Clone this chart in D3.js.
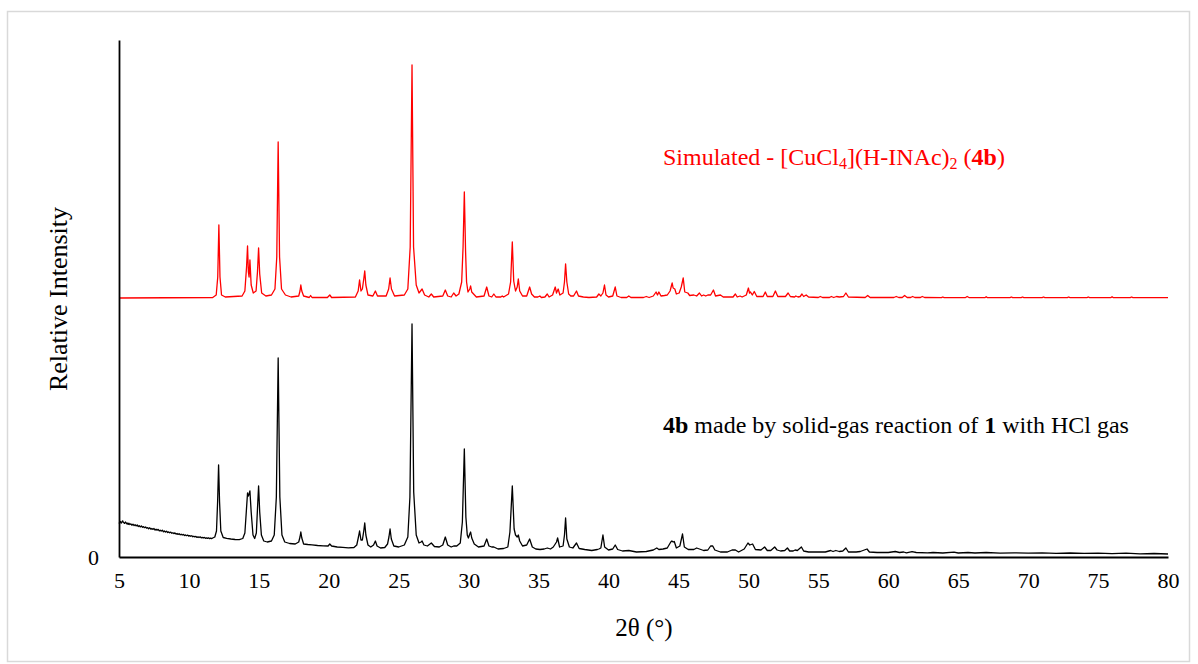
<!DOCTYPE html>
<html>
<head>
<meta charset="utf-8">
<script src="https://cdn.jsdelivr.net/npm/d3@7"></script>
<style>
  html, body { margin: 0; padding: 0; background: #fff; }
  svg { display: block; font-family: "Liberation Serif", "Times New Roman", serif; }
</style>
</head>
<body>
<svg id="chart" width="1198" height="664"></svg>
<script>
// ---- Data (2θ in degrees, relative intensity in arbitrary units, simulated pattern plotted with offset) ----
const xTicks = [5, 10, 15, 20, 25, 30, 35, 40, 45, 50, 55, 60, 65, 70, 75, 80];
const yTicks = [0];

const simulatedLabel = "Simulated";
const experimentalLabel = "4b made by solid-gas reaction of 1 with HCl gas";

const simulated = [
  [5, 259], [11.7, 259.5], [11.95, 262], [12.06, 280], [12.14, 332], [12.22, 280], [12.33, 262], [12.6, 260],
  [13.8, 261], [14.0, 266], [14.12, 290], [14.19, 311], [14.25, 285], [14.3, 280], [14.36, 297], [14.45, 272],
  [14.6, 264], [14.8, 266], [14.9, 285], [14.98, 309], [15.06, 283], [15.2, 264], [15.5, 261],
  [15.9, 262], [16.15, 268], [16.28, 300], [16.38, 415], [16.48, 300], [16.62, 268], [16.9, 262], [17.3, 260],
  [17.85, 261], [17.94, 266], [18.0, 272], [18.07, 266], [18.2, 261],
  [18.6, 259.5], [18.7, 261.5], [18.8, 259.5],
  [19.9, 259.5], [20.07, 262], [20.2, 259.5],
  [21.9, 260], [22.1, 266], [22.2, 277], [22.3, 266], [22.4, 268], [22.5, 278], [22.57, 286], [22.65, 272], [22.8, 262],
  [23.15, 261], [23.33, 266], [23.48, 261],
  [24.1, 261], [24.28, 268], [24.38, 279], [24.48, 268], [24.7, 261],
  [25.4, 262], [25.65, 268], [25.82, 310], [25.95, 492], [26.06, 310], [26.25, 272], [26.45, 264], [26.67, 268], [26.85, 262],
  [27.15, 260], [27.33, 263], [27.5, 260],
  [28.15, 261], [28.33, 267], [28.5, 261], [28.75, 260], [28.93, 264], [29.1, 261],
  [29.3, 263], [29.5, 275], [29.6, 310], [29.69, 365], [29.78, 305], [29.85, 275], [29.95, 265], [30.08, 268],
  [30.14, 271], [30.22, 265], [30.35, 263], [30.55, 260],
  [31.1, 261], [31.29, 270], [31.45, 261], [31.65, 260], [31.8, 263], [31.95, 260],
  [32.3, 260], [32.4, 261], [32.5, 260],
  [32.85, 263], [33.0, 275], [33.12, 315], [33.22, 276], [33.35, 266], [33.47, 270], [33.55, 278], [33.65, 266], [33.85, 261],
  [34.15, 261], [34.36, 270], [34.5, 263], [34.7, 260],
  [34.95, 260], [35.09, 261], [35.2, 259.5],
  [35.45, 260], [35.62, 263], [35.75, 260],
  [36.0, 262], [36.19, 270], [36.28, 264], [36.4, 268], [36.52, 262], [36.75, 264], [36.85, 275], [36.93, 293],
  [37.02, 275], [37.15, 263], [37.3, 261], [37.5, 261], [37.71, 266], [37.85, 261], [38.2, 260], [38.6, 259.5],
  [39.15, 260], [39.31, 263], [39.45, 261], [39.6, 264], [39.71, 272], [39.82, 262], [40.0, 260],
  [40.3, 261], [40.48, 270], [40.6, 261], [40.9, 259.5],
  [41.3, 259.5], [41.45, 261], [41.6, 259.5],
  [42.5, 259.5], [42.7, 260.5], [42.9, 259.5],
  [43.2, 261], [43.4, 265], [43.5, 262], [43.6, 265], [43.75, 261], [44.0, 261.5], [44.2, 262], [44.4, 266],
  [44.55, 274], [44.62, 269], [44.74, 268], [44.85, 263], [45.05, 264], [45.2, 270], [45.34, 279], [45.45, 265],
  [45.67, 264], [45.8, 261.5], [46.1, 262], [46.3, 261], [46.5, 264], [46.65, 261], [46.8, 262], [46.95, 261],
  [47.1, 262], [47.3, 262], [47.5, 267], [47.65, 261], [48.0, 262], [48.2, 260],
  [48.9, 260], [49.07, 263], [49.2, 260], [49.4, 261], [49.55, 260],
  [49.85, 262], [50.0, 269], [50.08, 264], [50.15, 265], [50.28, 262], [50.42, 265.5], [50.6, 260.5],
  [51.05, 260.5], [51.21, 265], [51.35, 260.5],
  [51.75, 260.5], [51.93, 266], [52.1, 260.5],
  [52.65, 260.5], [52.84, 264], [53.0, 260.5],
  [53.3, 260], [53.39, 261], [53.55, 260], [53.7, 260.5], [53.83, 263], [53.95, 260.5], [54.13, 262], [54.3, 260],
  [55.0, 259.5], [55.14, 260.5], [55.3, 259.5],
  [55.8, 259.5], [55.93, 260.5], [56.1, 259.5], [56.3, 260.5], [56.5, 260], [56.8, 260.5], [56.97, 264], [57.15, 260],
  [58.35, 259.5], [58.53, 261.5], [58.7, 259.5],
  [60.4, 259.5], [60.57, 260.5], [60.75, 259.5], [61.0, 259.5], [61.17, 261.5], [61.35, 259.5],
  [61.6, 259.5], [61.74, 260.5], [61.9, 259.5],
  [62.3, 259.5], [62.43, 260.5], [62.6, 259.5],
  [63.8, 259.3], [63.9, 260], [64.0, 259.3],
  [65.5, 259.3], [65.64, 260.5], [65.8, 259.3],
  [66.9, 259.3], [67.0, 260.3], [67.1, 259.3],
  [68.7, 259.3], [68.8, 260], [68.9, 259.3],
  [69.5, 259.3], [69.6, 260], [69.7, 259.3],
  [71.0, 259.3], [71.1, 260], [71.2, 259.3],
  [72.8, 259.3], [72.9, 260], [73.0, 259.3],
  [74.2, 259.3], [74.3, 260], [74.4, 259.3],
  [75.9, 259.3], [76.0, 260.3], [76.1, 259.3],
  [77.3, 259.3], [77.4, 260], [77.5, 259.3],
  [80, 259.3]
];

const experimental = [
  [5.0, 33.5], [5.06, 34.8], [5.1, 35.5], [5.16, 33.9], [5.2, 34.6], [5.26, 36.1], [5.3, 35.2], [5.36, 34],
  [5.4, 33.6], [5.46, 35], [5.5, 34.4], [5.56, 33.1], [5.6, 33.9], [5.66, 32.6], [5.7, 33.8], [5.78, 32.5],
  [5.85, 33.1], [5.92, 31.8], [6.0, 32.9], [6.08, 31.4], [6.15, 32.2], [6.22, 31.1], [6.3, 32], [6.38, 30.5],
  [6.45, 31.2], [6.52, 30.1], [6.6, 31.1], [6.68, 29.7], [6.75, 30.4], [6.82, 29.3], [6.9, 30], [6.98, 28.8],
  [7.05, 29.4], [7.12, 28.3], [7.2, 29.2], [7.28, 27.8], [7.35, 28.6], [7.42, 27.6], [7.5, 28.5], [7.58, 26.9],
  [7.65, 27.8], [7.72, 26.8], [7.8, 27.6], [7.88, 26.1], [7.95, 26.8], [8.02, 25.9], [8.1, 26.8], [8.18, 25.2],
  [8.25, 26], [8.32, 24.9], [8.4, 25.8], [8.48, 24.5], [8.55, 25.1], [8.62, 24.2], [8.7, 24.9], [8.78, 23.7],
  [8.85, 24.3], [8.92, 23.4], [9.0, 24.1], [9.08, 22.9], [9.15, 23.5], [9.22, 22.6], [9.3, 23.3], [9.38, 22.2],
  [9.45, 22.8], [9.52, 22], [9.6, 22.6], [9.68, 21.5], [9.75, 22.1], [9.82, 21.3], [9.9, 21.9], [9.98, 20.9],
  [10.05, 21.4], [10.12, 20.7], [10.2, 21.3], [10.28, 20.2], [10.35, 20.8], [10.42, 20.1], [10.5, 20.6], [10.58, 19.6],
  [10.65, 20.2], [10.72, 19.5], [10.8, 20.2], [10.88, 19.1], [10.95, 19.7], [11.02, 19], [11.1, 19.6], [11.18, 18.7],
  [11.25, 19.2], [11.32, 18.6], [11.4, 19.2], [11.48, 18.3], [11.55, 18.8], [11.62, 18.4], [11.7, 19],
  [11.85, 20], [11.97, 26], [12.05, 55], [12.12, 92], [12.19, 55], [12.28, 26], [12.45, 19.5], [12.7, 18.6],
  [13.0, 18], [13.3, 17.5], [13.6, 17.4], [13.85, 18.5], [14.0, 24], [14.1, 45], [14.19, 64], [14.25, 61],
  [14.3, 63], [14.36, 66], [14.45, 45], [14.58, 22], [14.7, 18.5], [14.82, 24], [14.9, 48], [14.98, 71],
  [15.06, 45], [15.18, 22], [15.35, 16], [15.6, 15], [15.9, 16], [16.1, 22], [16.25, 60], [16.38, 199],
  [16.5, 60], [16.65, 22], [16.85, 15], [17.2, 13.5], [17.6, 13], [17.85, 15], [17.94, 20], [18.0, 25],
  [18.07, 19], [18.2, 13], [18.5, 12.5], [18.8, 12.2], [19.2, 11.5], [19.6, 11.2], [19.95, 11], [20.07, 13],
  [20.2, 11], [20.6, 10], [21.0, 9.6], [21.4, 9.2], [21.8, 9.5], [22.0, 12], [22.12, 20], [22.2, 26],
  [22.3, 17], [22.4, 17], [22.5, 26], [22.57, 34], [22.65, 22], [22.8, 12], [23.0, 10], [23.2, 12],
  [23.33, 16], [23.45, 11], [23.7, 9], [24.0, 9.5], [24.2, 13], [24.3, 20], [24.38, 28], [24.47, 18],
  [24.65, 11], [25.0, 10], [25.4, 12], [25.65, 20], [25.8, 60], [25.95, 233], [26.07, 65], [26.25, 22],
  [26.45, 14], [26.6, 15], [26.67, 16], [26.8, 12], [27.05, 11], [27.33, 14], [27.55, 10.5], [27.9, 10],
  [28.15, 12], [28.33, 20], [28.5, 12], [28.75, 10], [28.93, 11], [29.15, 11], [29.4, 14], [29.55, 35],
  [29.69, 108], [29.8, 40], [29.9, 22], [29.98, 19], [30.08, 23], [30.14, 25], [30.22, 19], [30.4, 13],
  [30.7, 10], [31.1, 11], [31.29, 18], [31.45, 11], [31.65, 10], [31.8, 10], [32.1, 8], [32.5, 8.5],
  [32.8, 10], [32.95, 25], [33.12, 71], [33.25, 28], [33.35, 22], [33.47, 20], [33.55, 22], [33.65, 16],
  [33.85, 11], [34.15, 12], [34.36, 18], [34.55, 10], [34.8, 8], [35.1, 7.5], [35.4, 8], [35.62, 9],
  [35.85, 8], [36.05, 10], [36.19, 13], [36.28, 15], [36.36, 19], [36.5, 10], [36.75, 11], [36.85, 22],
  [36.93, 39], [37.02, 18], [37.2, 10], [37.45, 9], [37.71, 14], [37.9, 8.5], [38.3, 7.5], [38.8, 6.5],
  [39.2, 7.5], [39.31, 8], [39.45, 9], [39.6, 22], [39.72, 10], [40.0, 7], [40.3, 8], [40.48, 12],
  [40.65, 7.5], [41.0, 6], [41.45, 6.5], [42.0, 5], [42.7, 5.5], [43.2, 7], [43.45, 9], [43.6, 7.5],
  [43.9, 8], [44.2, 9], [44.45, 15], [44.53, 16], [44.62, 15], [44.7, 15.5], [44.85, 9], [45.1, 11],
  [45.29, 23], [45.42, 10], [45.7, 7.5], [46.1, 7.5], [46.3, 9], [46.5, 8], [46.8, 6.5], [47.1, 7],
  [47.3, 11], [47.45, 11], [47.6, 7], [48.0, 5], [48.5, 5], [48.83, 7], [49.07, 7], [49.3, 5],
  [49.7, 8], [49.97, 14], [50.1, 12], [50.3, 13], [50.5, 7.5], [50.9, 7], [51.16, 10], [51.35, 6.5],
  [51.6, 6.5], [51.88, 10], [52.05, 7], [52.3, 6], [52.6, 6.5], [52.79, 9], [52.95, 6], [53.2, 6],
  [53.34, 7], [53.5, 6.5], [53.79, 10], [53.95, 6], [54.3, 5], [55.0, 5], [55.5, 5], [55.88, 6.5],
  [56.05, 5.5], [56.25, 6.5], [56.5, 5.5], [56.75, 6], [56.97, 9], [57.15, 5], [57.7, 5], [58.0, 5.5],
  [58.48, 8], [58.65, 5], [59.2, 4.5], [60.0, 4.5], [60.5, 5.5], [60.8, 4.5], [61.1, 5], [61.3, 4.2],
  [61.7, 5.3], [62.0, 4.5], [62.8, 4.2], [63.2, 4.5], [63.9, 4], [64.7, 4.8], [65.0, 4], [65.7, 4.5],
  [66.2, 4], [67.0, 4.5], [68.0, 3.8], [69.0, 4.2], [70.0, 3.8], [71.0, 4.2], [72.0, 3.7], [73.0, 4],
  [74.0, 3.6], [75.0, 3.9], [76.0, 3.4], [77.0, 3.8], [78.0, 3.2], [79.0, 3.5], [80.0, 3]
];

// ---- Layout ----
const svg = d3.select("#chart");

svg.append("rect")
  .attr("x", 7.5).attr("y", 11.5).attr("width", 1182).attr("height", 650)
  .attr("fill", "#fff").attr("stroke", "#d9d9d9").attr("stroke-width", 1.5);

const x = d3.scaleLinear().domain([5, 80]).range([119, 1168]);
const y = d3.scaleLinear().domain([0, 517]).range([557, 40]);

const line = d3.line().x(d => x(d[0])).y(d => y(d[1]));

svg.append("path").datum(simulated)
  .attr("d", line).attr("fill", "none").attr("stroke", "#ff0000")
  .attr("stroke-width", 1.3).attr("stroke-linejoin", "round");

svg.append("path").datum(experimental)
  .attr("d", line).attr("fill", "none").attr("stroke", "#000")
  .attr("stroke-width", 1.3).attr("stroke-linejoin", "round");

// Axes
const xAxis = svg.append("g")
  .attr("transform", `translate(0,${y(0)})`)
  .call(d3.axisBottom(x).tickValues(xTicks).tickSize(0).tickPadding(15).tickFormat(d3.format("d")));
xAxis.select(".domain").attr("stroke", "#000").attr("stroke-width", 1.8);
xAxis.selectAll("text").attr("font-size", 22).attr("font-family", "Liberation Serif").attr("fill", "#000");

const yAxis = svg.append("g")
  .attr("transform", `translate(${x(5)},0)`)
  .call(d3.axisLeft(y).tickValues(yTicks).tickSize(0).tickPadding(20).tickFormat(d3.format("d")));
yAxis.select(".domain").attr("stroke", "#000").attr("stroke-width", 1.8);
yAxis.selectAll("text").attr("font-size", 22).attr("font-family", "Liberation Serif").attr("fill", "#000");

// Axis titles
svg.append("text")
  .attr("transform", "translate(67,299) rotate(-90)")
  .attr("text-anchor", "middle")
  .attr("font-size", 26).attr("fill", "#000")
  .text("Relative Intensity");

svg.append("text")
  .attr("x", 644).attr("y", 636)
  .attr("text-anchor", "middle")
  .attr("font-size", 25).attr("fill", "#000")
  .text("2θ (°)");

// Annotations
const red = svg.append("text")
  .attr("x", 663).attr("y", 165)
  .attr("font-size", 24).attr("fill", "#ff0000");
red.append("tspan").text(simulatedLabel + " - [CuCl");
red.append("tspan").attr("font-size", 16).attr("dy", 4).text("4");
red.append("tspan").attr("dy", -4).text("](H-INAc)");
red.append("tspan").attr("font-size", 16).attr("dy", 4).text("2");
red.append("tspan").attr("dy", -4).text(" (");
red.append("tspan").attr("font-weight", "bold").text("4b");
red.append("tspan").text(")");

const blk = svg.append("text")
  .attr("x", 663).attr("y", 433)
  .attr("font-size", 24).attr("fill", "#000");
blk.append("tspan").attr("font-weight", "bold").text("4b");
blk.append("tspan").text(" made by solid-gas reaction of ");
blk.append("tspan").attr("font-weight", "bold").text("1");
blk.append("tspan").text(" with HCl gas");
</script>
</body>
</html>
